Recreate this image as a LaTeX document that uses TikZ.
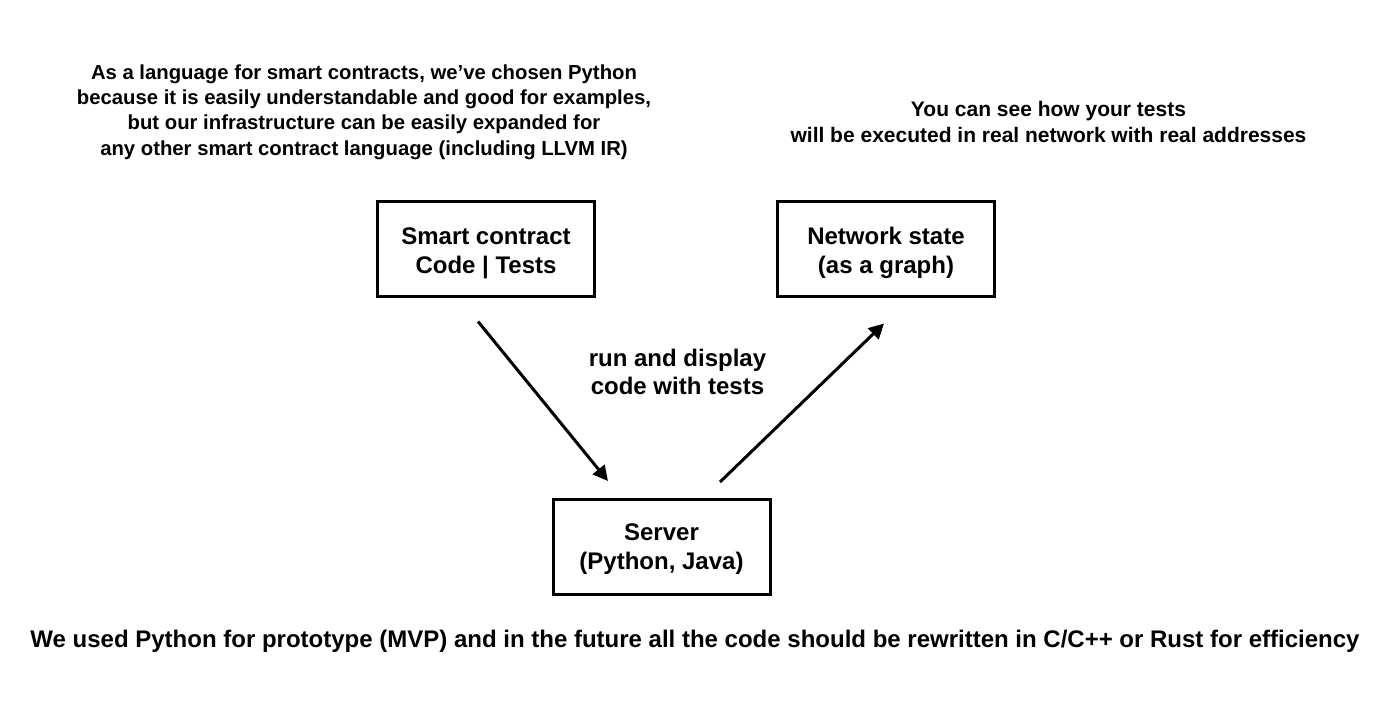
\documentclass[tikz,border=0pt]{standalone}
\usepackage{fontspec}
\setmainfont{Liberation Sans}
\usetikzlibrary{arrows.meta}
\newcommand{\twolines}[2]{\begin{tabular}{@{}c@{}}#1\\#2\end{tabular}}
\begin{document}
\begin{tikzpicture}[x=1pt,y=1pt,
  box/.style={draw=black,line width=3pt,minimum width=217pt,minimum height=95pt,inner sep=0pt,
    text height=40pt,text depth=19.4pt,
    font=\bfseries\fontsize{24}{29}\selectfont},
  note/.style={align=center,inner sep=0pt,font=\bfseries\fontsize{20.3}{25.3}\selectfont},
  big/.style={align=center,inner sep=0pt,font=\bfseries\fontsize{24}{28}\selectfont},
  arr/.style={line width=3pt,-{Triangle[length=15pt,width=15pt]}}]
\fill[white] (0,0) rectangle (1395,716);
\useasboundingbox (0,0) rectangle (1395,716);
\node[note] (t1) at (364,604) {As a language for smart contracts, we’ve chosen Python\\because it is easily understandable and good for examples,\\but our infrastructure can be easily expanded for\\any other smart contract language (including LLVM IR)};
\node[note,font=\bfseries\fontsize{21}{26}\selectfont] (t2) at (1048.5,594) {You can see how your tests\\will be executed in real network with real addresses};
\node[box] (sc) at (486,467) {\twolines{Smart contract}{Code | Tests}};
\node[box] (ns) at (886,467) {\twolines{Network state}{(as a graph)}};
\node[box,text depth=22.4pt] (sv) at (661.5,169.5) {\twolines{Server}{(Python, Java)}};
\node[big] (lab) at (677.5,344) {run and display\\code with tests};
\node[big] (bot) at (695,75) {We used Python for prototype (MVP) and in the future all the code should be rewritten in C/C++ or Rust for efficiency};
\coordinate (a1s) at ([xshift=-8pt,yshift=-23.5pt]sc.south);
\coordinate (a1e) at ([xshift=-53.5pt,yshift=16.5pt]sv.north);
\coordinate (a2s) at ([xshift=58.5pt,yshift=15.5pt]sv.north);
\coordinate (a2e) at ([xshift=-2pt,yshift=-25.5pt]ns.south);
\draw[arr] (a1s) -- (a1e);
\draw[arr] (a2s) -- (a2e);
\end{tikzpicture}
\end{document}
